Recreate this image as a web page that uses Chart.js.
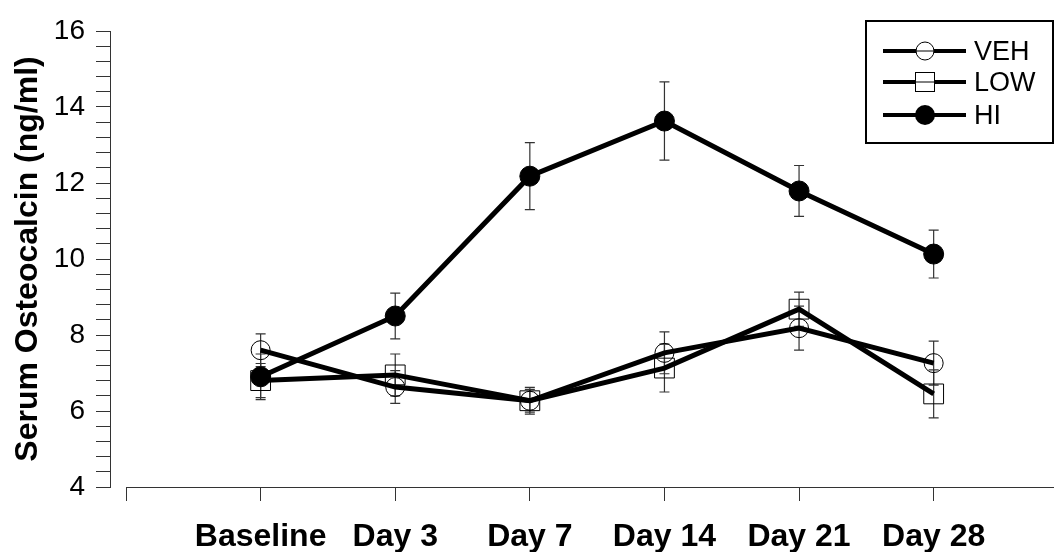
<!DOCTYPE html>
<html>
<head>
<meta charset="utf-8">
<script src="https://cdn.jsdelivr.net/npm/chart.js@4"></script>
<style>
  html, body { margin: 0; padding: 0; background: #fff; }
  #wrap { width: 1054px; height: 552px; position: relative; }
</style>
</head>
<body>
<div id="wrap"><canvas id="chart"></canvas></div>
<script>
// données
const categories = ['Baseline', 'Day 3', 'Day 7', 'Day 14', 'Day 21', 'Day 28'];
const seriesNames = ['VEH', 'LOW', 'HI'];
const vehMean = [7.6, 6.63, 6.27, 7.53, 8.18, 7.26];
const vehErr  = [0.43, 0.43, 0.3, 0.55, 0.58, 0.58];
const lowMean = [6.8, 6.95, 6.27, 7.13, 8.68, 6.45];
const lowErr  = [0.45, 0.55, 0.35, 0.63, 0.45, 0.63];
const hiMean  = [6.9, 8.5, 12.18, 13.63, 11.79, 10.13];
const hiErr   = [0.6, 0.6, 0.88, 1.03, 0.67, 0.63];
const yMin = 4, yMax = 16, yMinorStep = 0.4, yMajorStep = 2;

const FONT = "Arial, 'Liberation Sans', sans-serif";

function toPoints(means) {
    return means.map((v, i) => ({ x: i, y: v }));
}

const errors = [vehErr, lowErr, hiErr];

// barres d'erreur dessinées sous les marqueurs
const errorBars = {
    id: 'errorBars',
    beforeDatasetsDraw(chart) {
        const ctx = chart.ctx;
        const xs = chart.scales.x, ys = chart.scales.y;
        ctx.save();
        ctx.strokeStyle = '#333';
        ctx.lineWidth = 1.2;
        chart.data.datasets.forEach((ds, di) => {
            ds.data.forEach((p, i) => {
                const e = errors[di][i];
                const px = xs.getPixelForValue(p.x);
                const top = ys.getPixelForValue(p.y + e);
                const bot = ys.getPixelForValue(p.y - e);
                ctx.beginPath();
                ctx.moveTo(px, top); ctx.lineTo(px, bot);
                ctx.moveTo(px - 5, top); ctx.lineTo(px + 5, top);
                ctx.moveTo(px - 5, bot); ctx.lineTo(px + 5, bot);
                ctx.stroke();
            });
        });
        ctx.restore();
    }
};

// axe x qui démarre au tick -1, et légende encadrée
const extras = {
    id: 'extras',
    afterDraw(chart) {
        const ctx = chart.ctx;
        const xs = chart.scales.x;
        const area = chart.chartArea;
        ctx.save();
        ctx.strokeStyle = '#333';
        ctx.lineWidth = 1;
        ctx.beginPath();
        ctx.moveTo(xs.getPixelForValue(-1), area.bottom + 0.5);
        ctx.lineTo(area.right, area.bottom + 0.5);
        ctx.stroke();

        // légende
        ctx.strokeStyle = '#000';
        ctx.lineWidth = 2;
        ctx.strokeRect(866, 21, 187, 122);
        const rows = [51, 82, 115];
        rows.forEach((ry, k) => {
            ctx.strokeStyle = '#000';
            ctx.lineWidth = 4;
            ctx.beginPath();
            ctx.moveTo(883, ry); ctx.lineTo(966, ry);
            ctx.stroke();
            ctx.lineWidth = 1;
            if (k === 0) {
                ctx.fillStyle = '#fff';
                ctx.beginPath(); ctx.arc(925, ry, 9, 0, 2 * Math.PI); ctx.fill(); ctx.stroke();
                ctx.beginPath(); ctx.moveTo(916, ry); ctx.lineTo(934, ry); ctx.stroke();
            } else if (k === 1) {
                ctx.fillStyle = '#fff';
                ctx.fillRect(915, ry - 10, 20, 20);
                ctx.strokeRect(915.5, ry - 9.5, 19, 19);
                ctx.beginPath(); ctx.moveTo(915, ry); ctx.lineTo(935, ry); ctx.stroke();
            } else {
                ctx.fillStyle = '#000';
                ctx.beginPath(); ctx.arc(925, ry, 10, 0, 2 * Math.PI); ctx.fill();
            }
            ctx.fillStyle = '#000';
            ctx.font = '27px ' + FONT;
            ctx.textAlign = 'left';
            ctx.textBaseline = 'middle';
            ctx.fillText(seriesNames[k], 974, ry + 2);
        });
        ctx.restore();
    }
};

const common = {
    borderColor: '#000',
    borderWidth: 5,
    tension: 0,
    pointBorderColor: '#000',
    pointBorderWidth: 1
};

new Chart(document.getElementById('chart'), {
    type: 'line',
    data: {
        datasets: [
            Object.assign({}, common, {
                label: seriesNames[0], data: toPoints(vehMean),
                pointStyle: 'circle', pointRadius: 9.5, pointBackgroundColor: 'rgba(0,0,0,0)'
            }),
            Object.assign({}, common, {
                label: seriesNames[1], data: toPoints(lowMean),
                pointStyle: 'rect', pointRadius: 14, pointBackgroundColor: 'rgba(0,0,0,0)'
            }),
            Object.assign({}, common, {
                label: seriesNames[2], data: toPoints(hiMean),
                pointStyle: 'circle', pointRadius: 10, pointBackgroundColor: '#000'
            })
        ]
    },
    options: {
        responsive: true,
        maintainAspectRatio: false,
        animation: false,
        layout: { padding: { top: 31, right: 0, bottom: 0, left: 0 }, autoPadding: false },
        plugins: {
            legend: { display: false },
            tooltip: { enabled: false }
        },
        scales: {
            x: {
                type: 'linear',
                min: -1.119,
                max: 5.894,
                afterBuildTicks(scale) {
                    scale.ticks = [-1, 0, 1, 2, 3, 4, 5].map(v => ({ value: v }));
                },
                afterFit(scale) {
                    scale.height = 65;
                    scale.paddingLeft = 0;
                    scale.paddingRight = 0;
                },
                border: { display: false },
                grid: {
                    drawOnChartArea: false,
                    drawTicks: true,
                    tickLength: 14,
                    tickColor: '#333'
                },
                ticks: {
                    autoSkip: false,
                    maxRotation: 0,
                    padding: 17,
                    color: '#000',
                    font: { family: FONT, size: 32, weight: 'bold' },
                    callback: v => (v >= 0 ? categories[v] : '')
                }
            },
            y: {
                min: yMin,
                max: yMax,
                afterBuildTicks(scale) {
                    const t = [];
                    const n = Math.round((yMax - yMin) / yMinorStep);
                    for (let i = 0; i <= n; i++) t.push({ value: +(yMin + i * yMinorStep).toFixed(2) });
                    scale.ticks = t;
                },
                afterFit(scale) {
                    scale.width = 110;
                    scale.paddingTop = 0;
                    scale.paddingBottom = 0;
                },
                border: { display: true, color: '#333', width: 1 },
                grid: {
                    drawOnChartArea: false,
                    drawTicks: true,
                    tickLength: 14,
                    tickColor: '#333'
                },
                ticks: {
                    autoSkip: false,
                    padding: 11,
                    color: '#000',
                    font: { family: FONT, size: 28 },
                    callback: v => {
                        const q = v / yMajorStep;
                        return Math.abs(q - Math.round(q)) < 1e-6 ? String(Math.round(v)) : '';
                    }
                },
                title: {
                    display: true,
                    text: 'Serum Osteocalcin (ng/ml)',
                    color: '#000',
                    font: { family: FONT, size: 32, weight: 'bold' },
                    padding: { top: 9, bottom: 0 }
                }
            }
        }
    },
    plugins: [errorBars, extras]
});
</script>
</body>
</html>
